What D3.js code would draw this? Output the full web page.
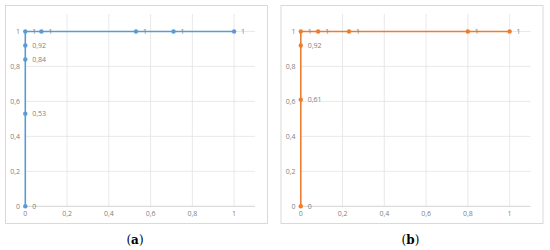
<!DOCTYPE html>
<html lang="en">
<head>
<meta charset="UTF-8">
<title>ROC curves</title>
<script src="https://d3js.org/d3.v7.min.js"></script>
<style>
  body { margin: 0; background: #fff; }
  .tick-label, .data-label { font-family: "Open Sans", Calibri, sans-serif; fill: #7f7f7f; }
</style>
</head>
<body>
<script>
// panel (a): false positive rate / true positive rate
const fprA = [0, 0, 0, 0, 0, 0.077, 0.53, 0.71, 1]
const tprA = [0, 0.53, 0.84, 0.92, 1, 1, 1, 1, 1]
// panel (b)
const fprB = [0, 0, 0, 0, 0.083, 0.231, 0.80, 1]
const tprB = [0, 0.61, 0.92, 1, 1, 1, 1, 1]

const tickValues = [0, 0.2, 0.4, 0.6, 0.8, 1]
const captions = ['a', 'b']
const colors = ['#5b9bd5', '#ed7d31']

const fmt = v => String(+v.toFixed(2)).replace('.', ',')

const svg = d3.select('body').append('svg')
  .attr('width', 550)
  .attr('height', 250)

function drawPanel(left, xs, ys, color, caption) {
  const g = svg.append('g').attr('transform', `translate(${left},0)`)

  // chart frame
  g.append('rect')
    .attr('x', 5.5).attr('y', 5.5)
    .attr('width', 262).attr('height', 218)
    .attr('fill', 'none')
    .attr('stroke', '#d9d9d9')
    .attr('stroke-width', 1)

  const x = d3.scaleLinear().domain([0, 1.1]).range([25.3, 255])
  const y = d3.scaleLinear().domain([0, 1.1]).range([206.3, 14])

  // gridlines
  g.selectAll('.vgrid')
    .data(tickValues.slice(1))
    .enter().append('line')
    .attr('x1', d => x(d)).attr('x2', d => x(d))
    .attr('y1', y(1.1)).attr('y2', y(0))
    .attr('stroke', '#e3e3e3').attr('stroke-width', 0.8)

  g.selectAll('.hgrid')
    .data(tickValues)
    .enter().append('line')
    .attr('x1', x(0)).attr('x2', x(1.1))
    .attr('y1', d => y(d)).attr('y2', d => y(d))
    .attr('stroke', d => d === 0 ? '#c8c8c8' : '#e3e3e3')
    .attr('stroke-width', 0.8)

  // tick labels
  g.selectAll('.ylab')
    .data(tickValues)
    .enter().append('text')
    .attr('class', 'tick-label')
    .attr('x', 20).attr('y', d => y(d))
    .attr('dy', '0.35em')
    .attr('text-anchor', 'end')
    .attr('font-size', 7)
    .text(fmt)

  g.selectAll('.xlab')
    .data(tickValues)
    .enter().append('text')
    .attr('class', 'tick-label')
    .attr('x', d => x(d)).attr('y', 216)
    .attr('text-anchor', 'middle')
    .attr('font-size', 7)
    .text(fmt)

  const pts = xs.map((v, i) => ({ fx: v, ty: ys[i] }))

  g.append('path')
    .datum(pts)
    .attr('fill', 'none')
    .attr('stroke', color)
    .attr('stroke-width', 1.6)
    .attr('d', d3.line().x(d => x(d.fx)).y(d => y(d.ty)))

  g.selectAll('.pt')
    .data(pts)
    .enter().append('circle')
    .attr('cx', d => x(d.fx)).attr('cy', d => y(d.ty))
    .attr('r', 2.2)
    .attr('fill', color)

  g.selectAll('.dl')
    .data(pts)
    .enter().append('text')
    .attr('class', 'data-label')
    .attr('x', d => x(d.fx) + 7).attr('y', d => y(d.ty))
    .attr('dy', '0.35em')
    .attr('font-size', 7)
    .text(d => fmt(d.ty))

  // caption under the frame
  const cap = g.append('text')
    .attr('x', 135).attr('y', 244)
    .attr('text-anchor', 'middle')
    .attr('font-family', '"DejaVu Serif", "Liberation Serif", serif')
    .attr('font-size', 12)
    .attr('fill', '#000')
  cap.append('tspan').text('(')
  cap.append('tspan').attr('font-weight', 'bold').text(caption)
  cap.append('tspan').text(')')
}

drawPanel(0, fprA, tprA, colors[0], captions[0])
drawPanel(275.5, fprB, tprB, colors[1], captions[1])
</script>
</body>
</html>
